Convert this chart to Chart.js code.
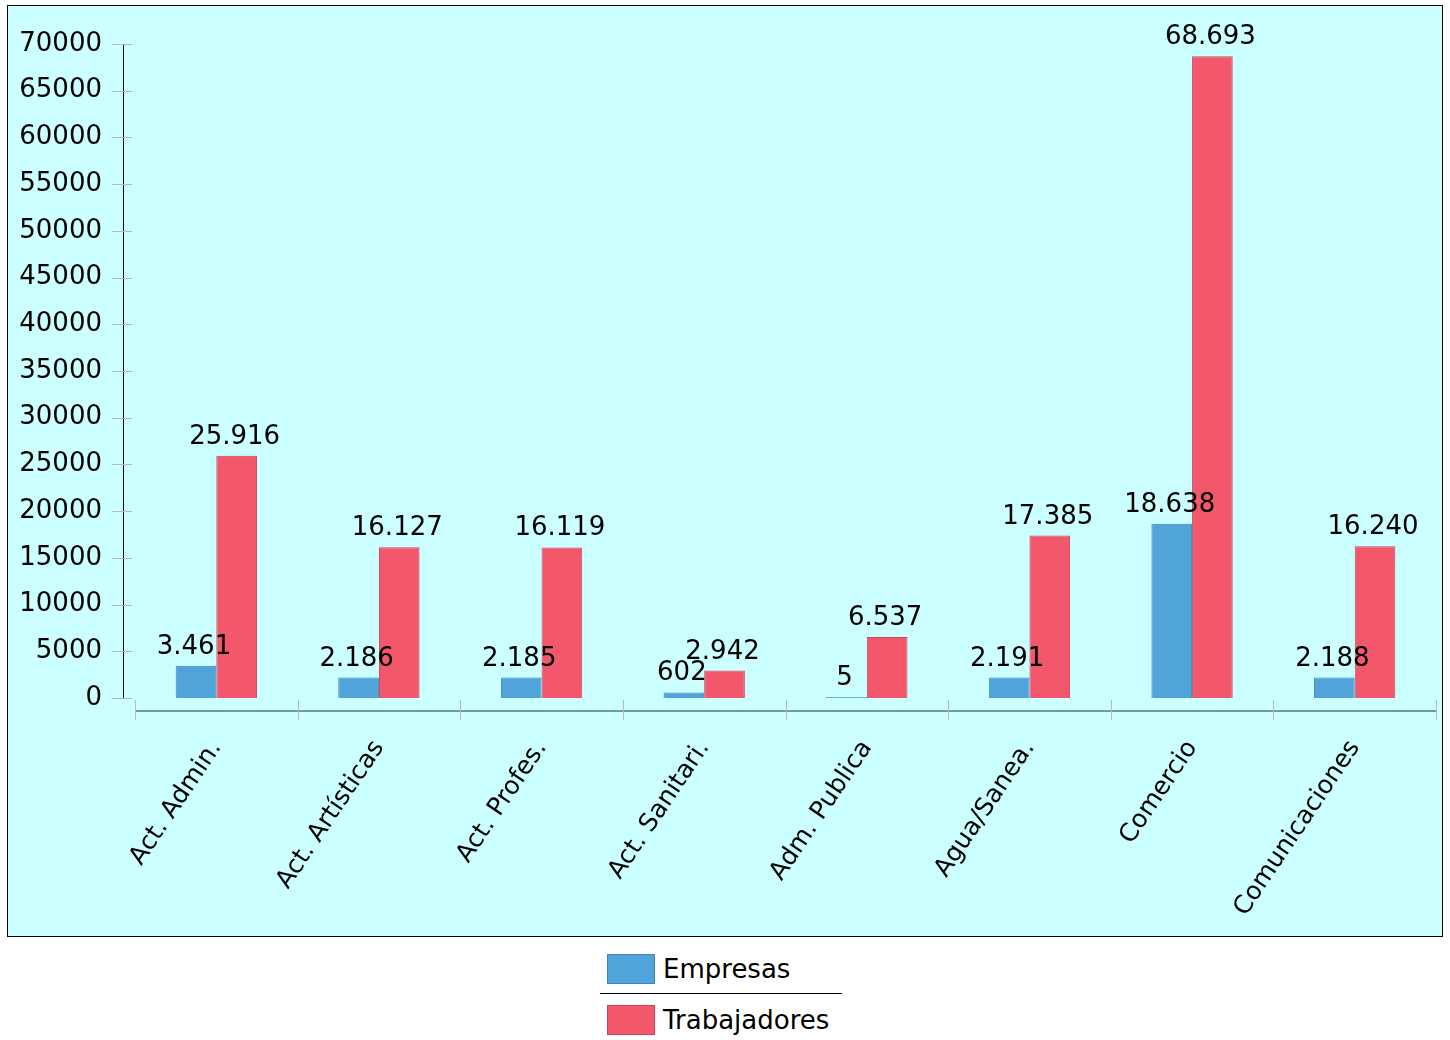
<!DOCTYPE html>
<html>
<head>
<meta charset="utf-8">
<script src="https://cdn.jsdelivr.net/npm/chart.js@4.4.1/dist/chart.umd.min.js"></script>
<style>
  body { margin: 0; background: #fff; font-family: "DejaVu Sans", sans-serif; }
  #box { position: absolute; left: 7px; top: 5px; width: 1434px; height: 930px; border: 1px solid #000; background: #ccffff; }
  #box canvas { display: block; }
  #legend { position: absolute; left: 600px; top: 952px; width: 242px; font-size: 26px; color: #000; }
  .item { display: flex; align-items: center; height: 34px; padding-left: 7px; }
  .swatch { width: 48px; height: 30px; margin-right: 8px; box-sizing: border-box; }
  .sep { border-top: 1px solid #000; margin: 7px 0 9px 0; }
</style>
</head>
<body>
<div id="box"><canvas id="chart" width="1434" height="930"></canvas></div>
<div id="legend">
  <div class="item"><div class="swatch" style="background:#50a4da;border:1px solid #3f86b8"></div>Empresas</div>
  <div class="sep"></div>
  <div class="item"><div class="swatch" style="background:#f2576b;border:1px solid #c9465a"></div>Trabajadores</div>
</div>
<script>
const categories = ["Act. Admin.", "Act. Artísticas", "Act. Profes.", "Act. Sanitari.", "Adm. Publica", "Agua/Sanea.", "Comercio", "Comunicaciones"];
const empresas = [3461, 2186, 2185, 602, 5, 2191, 18638, 2188];
const trabajadores = [25916, 16127, 16119, 2942, 6537, 17385, 68693, 16240];

const fmt = (v) => String(v).replace(/\B(?=(\d{3})+(?!\d))/g, ".");

// axis lines, tick marks and value labels drawn on top of chart.js scales
const extras = {
  id: "extras",
  afterDraw(chart) {
    const { ctx, chartArea: a } = chart;
    const y = chart.scales.y;
    ctx.save();
    // y axis line, offset left of the plot
    ctx.strokeStyle = "#000";
    ctx.lineWidth = 1;
    ctx.beginPath();
    ctx.moveTo(a.left - 11.5, y.getPixelForValue(70000));
    ctx.lineTo(a.left - 11.5, y.getPixelForValue(0));
    ctx.stroke();
    ctx.strokeStyle = "#b8b8b8";
    y.ticks.forEach(t => {
      const py = Math.round(y.getPixelForValue(t.value)) + 0.5;
      ctx.beginPath();
      ctx.moveTo(a.left - 23, py);
      ctx.lineTo(a.left - 3, py);
      ctx.stroke();
    });
    // x axis line, offset below the plot
    ctx.strokeStyle = "#557777";
    ctx.lineWidth = 1.5;
    ctx.beginPath();
    ctx.moveTo(a.left, a.bottom + 13);
    ctx.lineTo(a.right, a.bottom + 13);
    ctx.stroke();
    ctx.strokeStyle = "#b8b8b8";
    ctx.lineWidth = 1;
    const w = (a.right - a.left) / categories.length;
    for (let i = 0; i <= categories.length; i++) {
      const px = Math.round(a.left + i * w) + 0.5;
      ctx.beginPath();
      ctx.moveTo(px, a.bottom + 2);
      ctx.lineTo(px, a.bottom + 22);
      ctx.stroke();
    }
    // value labels
    ctx.fillStyle = "#000";
    ctx.font = "26px 'DejaVu Sans'";
    ctx.textAlign = "center";
    ctx.textBaseline = "alphabetic";
    chart.data.datasets.forEach((ds, di) => {
      chart.getDatasetMeta(di).data.forEach((bar, i) => {
        ctx.fillText(fmt(ds.data[i]), bar.x - 2, bar.y - 12);
      });
    });
    ctx.restore();
  }
};

new Chart(document.getElementById("chart"), {
  type: "bar",
  data: {
    labels: categories,
    datasets: [
      { label: "Empresas", data: empresas, backgroundColor: "#50a4da", borderColor: "#3f86b8", borderWidth: 1, minBarLength: 1 },
      { label: "Trabajadores", data: trabajadores, backgroundColor: "#f2576b", borderColor: "#c9465a", borderWidth: 1 },
    ],
  },
  options: {
    responsive: false,
    animation: false,
    layout: { padding: { top: 38, right: 6, left: 0, bottom: 0 } },
    plugins: { legend: { display: false }, tooltip: { enabled: false } },
    datasets: { bar: { categoryPercentage: 0.5, barPercentage: 1.0 } },
    scales: {
      x: {
        grid: { display: false },
        border: { display: false },
        ticks: {
          color: "#000",
          font: { family: "DejaVu Sans", size: 25 },
          minRotation: 56, maxRotation: 56,
          padding: 29,
        },
        afterFit(s) { s.height = 238; s.paddingLeft = 0; s.paddingRight = 0; },
      },
      y: {
        min: 0, max: 70000,
        grid: { display: false },
        border: { display: false },
        ticks: {
          stepSize: 5000,
          color: "#000",
          font: { family: "DejaVu Sans", size: 26 },
          padding: 25,
          callback: (v) => String(v),
        },
        afterFit(s) { s.width = 127; s.paddingTop = 0; s.paddingBottom = 0; },
      },
    },
  },
  plugins: [extras],
});
</script>
</body>
</html>
